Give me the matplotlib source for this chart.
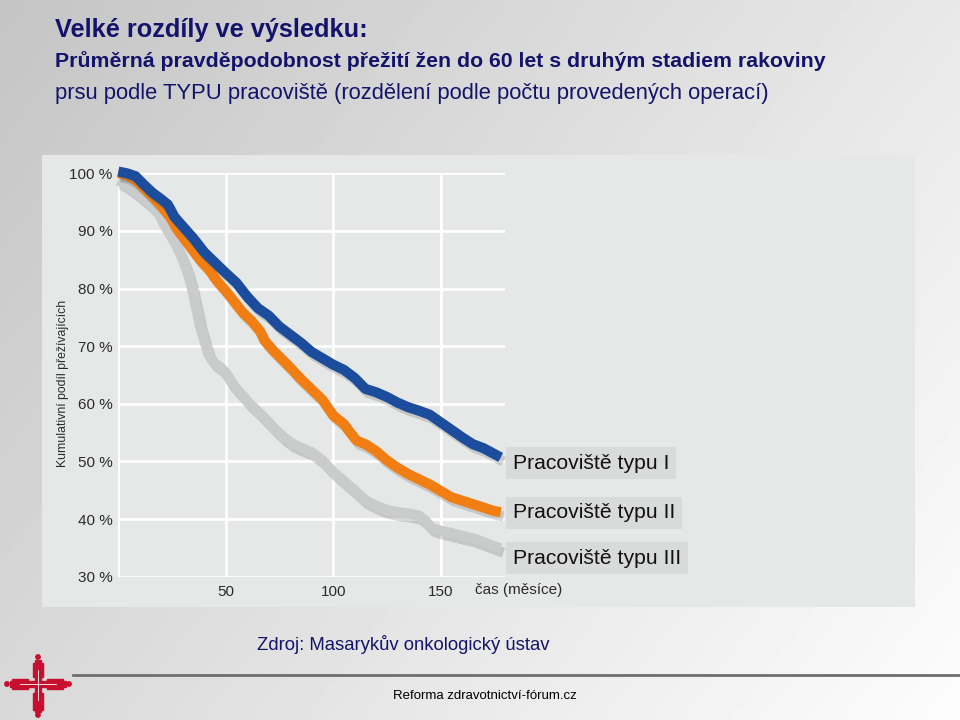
import numpy as np
import matplotlib
matplotlib.use("Agg")
import matplotlib.pyplot as plt
from matplotlib.patches import Rectangle, Circle
from matplotlib.lines import Line2D
import matplotlib.patheffects as pe

plt.rcParams['font.family'] = ['Liberation Sans', 'DejaVu Sans']

# survival curves (months, % surviving)
months_1 = [0, 4, 8, 12, 16, 20, 23, 26, 30, 35, 40, 45, 50, 55, 60, 65, 70, 75, 80, 85,
            90, 95, 100, 105, 110, 115, 120, 125, 130, 135, 140, 145, 150, 155, 160, 165,
            170, 175, 178]
surv_1 = [100.3, 100.0, 99.5, 98.0, 96.6, 95.5, 94.6, 92.5, 90.8, 88.7, 86.3, 84.5, 82.7,
          81.0, 78.6, 76.6, 75.3, 73.4, 72.0, 70.6, 69.0, 67.9, 66.8, 65.9, 64.5, 62.6,
          62.0, 61.2, 60.2, 59.4, 58.8, 58.1, 56.8, 55.5, 54.2, 53.0, 52.3, 51.3, 50.7]

months_2 = [0, 4, 8, 12, 16, 20, 24, 27, 30, 34, 38, 42, 46, 50, 54, 58, 62, 66, 68, 72,
            76, 80, 85, 90, 95, 100, 105, 108, 111, 115, 120, 125, 130, 135, 140, 145, 150,
            155, 160, 165, 170, 175, 178]
surv_2 = [100.0, 99.7, 98.8, 97.4, 95.9, 94.3, 92.5, 90.5, 89.0, 87.0, 85.0, 83.4, 81.3,
          79.6, 77.7, 75.8, 74.4, 72.6, 71.0, 69.3, 67.8, 66.3, 64.3, 62.5, 60.7, 58.0,
          56.5, 55.0, 53.6, 53.0, 51.8, 50.2, 48.9, 47.8, 46.9, 46.0, 44.9, 43.8, 43.2,
          42.6, 42.0, 41.4, 41.2]

months_3 = [0, 4, 8, 12, 16, 19, 21, 24, 27, 30, 32, 34, 36, 38, 40, 42, 45, 48, 50, 53,
            57, 61, 65, 69, 73, 77, 81, 85, 90, 95, 100, 105, 110, 115, 120, 125, 130, 135,
            140, 143, 146, 150, 155, 160, 165, 170, 175, 178]
surv_3 = [98.8, 97.9, 96.8, 95.6, 94.3, 93.0, 91.3, 89.4, 87.5, 85.0, 83.0, 80.5, 77.0,
          73.5, 71.0, 68.5, 67.0, 66.2, 65.4, 63.5, 61.8, 60.1, 58.7, 57.2, 55.6, 54.2,
          53.1, 52.4, 51.6, 50.2, 48.2, 46.6, 45.0, 43.3, 42.3, 41.6, 41.2, 41.0, 40.6,
          39.7, 38.5, 38.0, 37.6, 37.1, 36.7, 36.0, 35.3, 34.9]

labels = ['Pracoviště typu I', 'Pracoviště typu II', 'Pracoviště typu III']
colors = ['#1b4d9c', '#f07e12', '#c9cccb']
y_ticks = [30, 40, 50, 60, 70, 80, 90, 100]
x_ticks = [50, 100, 150]

W, H = 960, 720
navy = '#13136b'

fig = plt.figure(figsize=(9.6, 7.2), dpi=100)

# slide background gradient
bg = fig.add_axes([0, 0, 1, 1], zorder=-10)
gx, gy = np.meshgrid(np.linspace(0, 1, 200), np.linspace(0, 1, 150))
grad = 0.77 + 0.14 * gx + 0.08 * gy
bg.imshow(grad, cmap='gray', vmin=0, vmax=1, aspect='auto', extent=[0, 1, 1, 0])
bg.axis('off')

# light chart panel
fig.add_artist(Rectangle((42 / W, 1 - 607 / H), (915 - 42) / W, (607 - 155) / H,
                         transform=fig.transFigure, facecolor='#e5e8e6', edgecolor='none',
                         zorder=-5))

ax = fig.add_axes([118.3 / W, 1 - 576.7 / H, (505 - 118.3) / W, (576.7 - 173.3) / H])
ax.set_facecolor('none')
ax.set_xlim(0, 180)
ax.set_ylim(30, 100)
for s in ax.spines.values():
    s.set_visible(False)
ax.axvline(0, color='white', lw=2, zorder=1)
ax.set_xticks([0] + x_ticks)
ax.set_xticklabels([''] + [str(t) for t in x_ticks])
ax.set_yticks(y_ticks)
ax.set_yticklabels([f'{t} %' for t in y_ticks])
ax.grid(True, color='white', lw=2, zorder=1)
ax.set_axisbelow(True)
ax.tick_params(length=0, labelsize=11, labelcolor='#2b2b2b')
ax.tick_params(axis='y', pad=4)
ax.tick_params(axis='x', pad=6)

shadow = [pe.SimpleLineShadow(offset=(2, -3), shadow_color='#555555', alpha=0.22), pe.Normal()]
series = [(months_3, surv_3, colors[2]), (months_2, surv_2, colors[1]), (months_1, surv_1, colors[0])]
for i, (m, s, c) in enumerate(series):
    ax.plot(m, s, color=c, lw=7.3, solid_capstyle='butt', solid_joinstyle='round',
            clip_on=False, zorder=3 + i, path_effects=shadow)

fig.text(475 / W, 1 - 590 / H, 'čas (měsíce)', fontsize=11, color='#2b2b2b', va='center')
fig.text(63 / W, 1 - 383 / H, 'Kumulativní podíl přežívajících', rotation=90,
         fontsize=8.8, color='#2b2b2b', va='center', ha='center')

# series labels
label_y = [463, 513, 558]
for lab, yy in zip(labels, label_y):
    fig.text(513 / W, 1 - yy / H, lab, fontsize=15.2, color='#111111', va='center',
             bbox=dict(boxstyle='square,pad=0.33', facecolor='#d9dbda', edgecolor='none'))

# titles
fig.text(55 / W, 1 - 30 / H, 'Velké rozdíly ve výsledku:', fontsize=18.3, weight='bold',
         color=navy, va='center')
fig.text(55 / W, 1 - 61 / H,
         'Průměrná pravděpodobnost přežití žen do 60 let s druhým stadiem rakoviny',
         fontsize=15.3, weight='bold', color=navy, va='center')
fig.text(55 / W, 1 - 93 / H,
         'prsu podle TYPU pracoviště (rozdělení podle počtu provedených operací)',
         fontsize=15.8, color=navy, va='center')

# footer
fig.text(257 / W, 1 - 645 / H, 'Zdroj: Masarykův onkologický ústav', fontsize=13.3,
         color=navy, va='center')
fig.add_artist(Line2D([73 / W, 1], [1 - 675 / H] * 2, color='#6e6e6e', lw=2,
                      transform=fig.transFigure))
fig.text(485 / W, 1 - 696 / H, 'Reforma zdravotnictví-fórum.cz', fontsize=9.5,
         color='black', va='center', ha='center')

# logo
lg = fig.add_axes([0, 0, 90 / W, 80 / H])
lg.set_xlim(0, 90)
lg.set_ylim(720, 640)
lg.axis('off')
red = '#c8102e'
lg.add_patch(Rectangle((35, 660), 6, 52, color=red))
lg.add_patch(Rectangle((10, 681), 56, 6, color=red))
lg.add_patch(Rectangle((33, 663), 10, 14, color=red))
lg.add_patch(Rectangle((33, 693), 10, 17, color=red))
lg.add_patch(Rectangle((12, 679), 16, 10, color=red))
lg.add_patch(Rectangle((47, 679), 16, 10, color=red))
for cx, cy in [(38, 657), (38, 715), (7, 684), (69, 684)]:
    lg.add_patch(Circle((cx, cy), 2.2, color=red))
lg.plot([38, 38], [670, 700], color='white', lw=0.6)
lg.plot([20, 56], [684, 684], color='white', lw=0.6)

fig.savefig('out.png', dpi=100)
